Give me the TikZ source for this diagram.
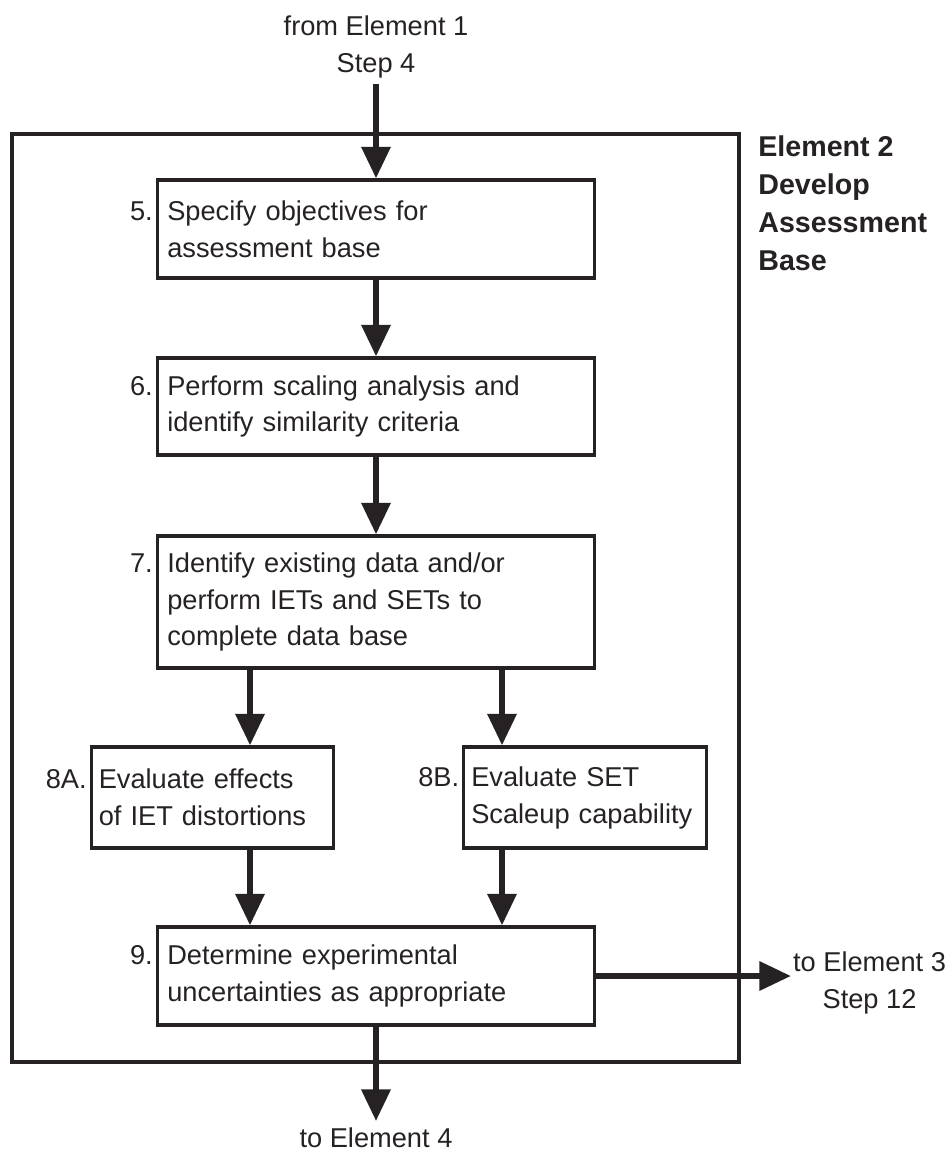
\documentclass[tikz,border=0pt]{standalone}
\usepackage{fontspec}
\setmainfont{Liberation Sans}
\usetikzlibrary{arrows.meta}

\definecolor{ink}{RGB}{38,34,35}

\tikzset{
  stepbox/.style={draw=ink, line width=1.8pt, align=left, inner xsep=0.2cm, inner ysep=0pt,
    text=ink, font=\fontsize{15.5}{21}\selectfont},
  numlbl/.style={anchor=base east, inner xsep=1.5pt, text=ink, font=\fontsize{15.5}{21}\selectfont},
  plain/.style={align=center, text=ink, font=\fontsize{15.5}{21}\selectfont},
  flow/.style={-{Triangle[length=18pt, width=16pt]}, line width=3.5pt, draw=ink},
}

\begin{document}
\begin{tikzpicture}[x=0.02cm, y=-0.02cm]

  \useasboundingbox (0,0) rectangle (946,1153);

  % -- Element 2 frame --
  \draw[ink, line width=1.8pt] (12,134) rectangle (739,1062);
  \node[anchor=base west, align=left, inner sep=0pt, text=ink,
        font=\fontsize{16.3}{21.5}\selectfont\bfseries] (elem) at (758,270)
        {Element 2\\Develop\\Assessment\\Base};

  % -- In and out --
  \node[plain, anchor=base] (from) at (376,72) {from Element 1\\Step 4};
  \node[plain, anchor=base] (to4) at (376,1147) {to Element 4};
  \node[plain, anchor=base west, inner xsep=1pt] (to3) at (791,1008) {to Element 3\\Step 12};

  % -- Steps --
  \node[stepbox, text width=8.35cm, minimum height=1.96cm] (s5) at (376,229)
        {Specify objectives for\\assessment base};
  \node[stepbox, text width=8.35cm, minimum height=1.94cm] (s6) at (376,406.5)
        {Perform scaling analysis and\\identify similarity criteria};
  \node[stepbox, text width=8.35cm, minimum height=2.64cm] (s7) at (376,602)
        {Identify existing data and/or\\perform IETs and SETs to\\complete data base};
  \node[stepbox, text width=4.55cm, inner xsep=0.15cm, minimum height=2.02cm] (s8a) at (212.5,797.5)
        {Evaluate effects\\of IET distortions};
  \node[stepbox, text width=4.55cm, inner xsep=0.15cm, minimum height=2.02cm] (s8b) at (585,797.5)
        {Evaluate SET\\Scaleup capability};
  \node[stepbox, text width=8.35cm, minimum height=1.96cm] (s9) at (376,976)
        {Determine experimental\\uncertainties as appropriate};

  % -- Step numbers --
  \node[numlbl] (l5) at (s5.base west) {5.};
  \node[numlbl] (l6) at (s6.base west) {6.};
  \node[numlbl] (l7) at (s7.base west) {7.};
  \node[numlbl] (l8a) at (s8a.base west) {8A.};
  \node[numlbl] (l8b) at (s8b.base west) {8B.};
  \node[numlbl] (l9) at (s9.base west) {9.};

  % -- Arrows --
  \coordinate (ca) at (250,0);
  \coordinate (cb) at (502,0);
  \draw[flow] (from) -- (s5);
  \draw[flow] (s5) -- (s6);
  \draw[flow] (s6) -- (s7);
  \draw[flow] (s7.south -| ca) -- (s8a.north -| ca);
  \draw[flow] (s7.south -| cb) -- (s8b.north -| cb);
  \draw[flow] (s8a.south -| ca) -- (s9.north -| ca);
  \draw[flow] (s8b.south -| cb) -- (s9.north -| cb);
  \draw[flow] (s9) -- (to4);
  \draw[flow] (s9.east) -- (s9.east -| to3.west);

\end{tikzpicture}
\end{document}
